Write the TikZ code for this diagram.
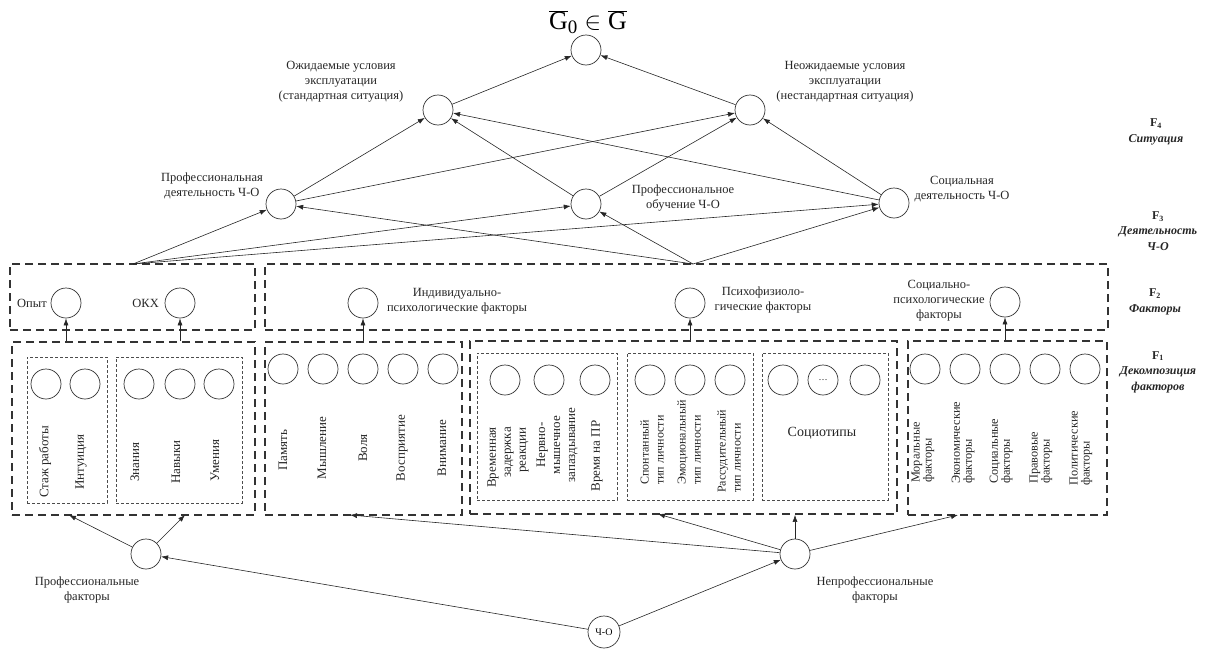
\documentclass[tikz,border=0pt]{standalone}
\usepackage{fontspec}
\setmainfont{Liberation Serif}
\usetikzlibrary{arrows.meta,calc}
\begin{document}
\begin{tikzpicture}[x=1pt,y=-1pt,
  cn/.style={circle,draw=black!80,line width=0.7pt,minimum size=30pt,inner sep=0pt},
  bigbox/.style={draw=black!80,line width=1.8pt,dash pattern=on 8pt off 5pt,inner sep=0pt},
  inbox/.style={draw=black!70,line width=0.6pt,dash pattern=on 3pt off 2pt,inner sep=0pt},
  arr/.style={-{Latex[length=7pt,width=5pt]},line width=0.6pt,draw=black!85},
  lbl/.style={font=\fontsize{12.5}{15}\selectfont,align=center,inner sep=0pt,text=black!85},
  rl/.style={font=\fontsize{13}{15}\selectfont,rotate=90,inner sep=0pt,text=black!85},
  rs/.style={font=\fontsize{12}{15}\selectfont,rotate=90,inner sep=0pt,anchor=west,align=left,text=black!85},
  rd/.style={font=\fontsize{12.3}{12}\selectfont,rotate=90,inner sep=0pt,anchor=west,align=left,text=black!85},
  fl/.style={font=\fontsize{12}{15.5}\selectfont\bfseries,align=center,inner sep=0pt,text=black!85}
]
\useasboundingbox (0,0) rectangle (1207,653);

% ---------- boxes ----------
\node[bigbox,minimum width=245pt,minimum height=66pt] (f2a) at (132.5,297) {};
\node[bigbox,minimum width=843pt,minimum height=66pt] (f2b) at (686.5,297) {};
\node[bigbox,minimum width=243pt,minimum height=173pt] (bA) at (133.5,428.5) {};
\node[inbox,minimum width=80pt,minimum height=146pt] (bA1) at (67,430) {};
\node[inbox,minimum width=126pt,minimum height=146pt] (bA2) at (179,430) {};
\node[bigbox,minimum width=197pt,minimum height=173pt] (bB) at (363.5,428.5) {};
\node[bigbox,minimum width=427pt,minimum height=173pt] (bC) at (683.5,427.5) {};
\node[inbox,minimum width=140pt,minimum height=147pt] (bC1) at (547,426.5) {};
\node[inbox,minimum width=126pt,minimum height=147pt] (bC2) at (690,426.5) {};
\node[inbox,minimum width=126pt,minimum height=147pt] (bC3) at (825,426.5) {};
\node[bigbox,minimum width=199pt,minimum height=174pt] (bD) at (1007.5,428) {};

% ---------- top graph ----------
\node (g0l) at (588,22) {\fontsize{26}{26}\selectfont$\overline{\mbox{G}}_{\mbox{\fontsize{19}{19}\selectfont 0}}\in\overline{\mbox{G}}$};
\node[cn] (g0) at (586,50) {};
\node[cn] (exp) at (438,110) {};
\node[cn] (unexp) at (750,110) {};
\node[cn] (pd) at (281,204) {};
\node[cn] (po) at (586,204) {};
\node[cn] (sd) at (894,203) {};

\node[lbl] (expl) at (341,82) {Ожидаемые условия\\эксплуатации\\(стандартная ситуация)};
\node[lbl] (unexpl) at (845,82) {Неожидаемые условия\\эксплуатации\\(нестандартная ситуация)};
\node[lbl] (pdl) at (212,186) {Профессиональная\\деятельность Ч-О};
\node[lbl] (pol) at (683,198) {Профессиональное\\обучение Ч-О};
\node[lbl] (sdl) at (962,189) {Социальная\\деятельность Ч-О};

\coordinate (t1) at (133,264);
\coordinate (t2) at (693,264);

\draw[arr] (exp) -- (g0);
\draw[arr] (unexp) -- (g0);
\draw[arr] (pd) -- (exp);
\draw[arr] (pd) -- (unexp);
\draw[arr] (po) -- (exp);
\draw[arr] (po) -- (unexp);
\draw[arr] (sd) -- (exp);
\draw[arr] (sd) -- (unexp);
\draw[arr] (t1) -- (pd);
\draw[arr] (t1) -- (po);
\draw[arr] (t1) -- (sd);
\draw[arr] (t2) -- (pd);
\draw[arr] (t2) -- (po);
\draw[arr] (t2) -- (sd);

% ---------- F labels ----------
\node[fl] (f4) at (1156,132) {F\textsubscript{4}\\\textit{Ситуация}};
\node[fl] (f3) at (1158,231) {F\textsubscript{3}\\\textit{Деятельность}\\\textit{Ч-О}};
\node[fl] (f2) at (1155,302) {F\textsubscript{2}\\\textit{Факторы}};
\node[fl] (f1) at (1158,372) {F\textsubscript{1}\\\textit{Декомпозиция}\\\textit{факторов}};

% ---------- F2 row ----------
\node[cn] (opyt) at (66,303) {};
\node[lbl,anchor=east] (opytl) at (47,303) {Опыт};
\node[cn] (okh) at (180,303) {};
\node[lbl,anchor=east] (okhl) at (159,303) {ОКХ};
\node[cn] (ind) at (363,303) {};
\node[lbl] (indl) at (457,301) {Индивидуально-\\психологические факторы};
\node[cn] (pf) at (690,303) {};
\node[lbl] (pfl) at (763,300) {Психофизиоло-\\гические факторы};
\node[cn] (sp) at (1005,302) {};
\node[lbl] (spl) at (939,301) {Социально-\\психологические\\факторы};

% ---------- F1 circles ----------
\foreach \x [count=\i] in {46,85,139,180,219} \node[cn] (a\i) at (\x,384) {};
\foreach \x [count=\i] in {283,323,363,403,443} \node[cn] (b\i) at (\x,369) {};
\foreach \x [count=\i] in {505,549,595,650,690,730,783} \node[cn] (c\i) at (\x,380) {};
\node[cn] (c8) at (823,380) {\fontsize{9}{9}\selectfont\ldots};
\node[cn] (c9) at (865,380) {};
\foreach \x [count=\i] in {925,965,1005,1045,1085} \node[cn] (d\i) at (\x,369) {};

% ---------- F1 labels ----------
\node[rl] (la1) at (45,462) {Стаж работы};
\node[rl] (la2) at (81,462) {Интуиция};
\node[rl] (la3) at (135,462) {Знания};
\node[rl] (la4) at (176,462) {Навыки};
\node[rl] (la5) at (215,461) {Умения};

\node[rl] (lb1) at (283,450) {Память};
\node[rl] (lb2) at (322,448) {Мышление};
\node[rl] (lb3) at (363,448) {Воля};
\node[rl] (lb4) at (402,448) {Восприятие};
\node[rl] (lb5) at (442,448) {Внимание};

\node[rl,anchor=east,align=right] (lc1) at (508,427) {Временная\\задержка\\реакции};
\node[rl,align=center] (lc2) at (557,445) {Нервно-\\мышечное\\запаздывание};
\node[rl] (lc3) at (597,456) {Время на ПР};
\node[rs] (lc4) at (652,485) {Спонтанный\\тип личности};
\node[rs] (lc5) at (689,485) {Эмоциональный\\тип личности};
\node[rs] (lc6) at (729,493) {Рассудительный\\тип личности};
\node[lbl,font=\fontsize{14}{16}\selectfont] (soc) at (822,433) {Социотипы};

\node[rd] (ld1) at (923,483) {Моральные\\факторы};
\node[rd] (ld2) at (963,484) {Экономические\\факторы};
\node[rd] (ld3) at (1001,484) {Социальные\\факторы};
\node[rd] (ld4) at (1041,484) {Правовые\\факторы};
\node[rd] (ld5) at (1081,486) {Политические\\факторы};

% ---------- F1 -> F2 arrows ----------
\draw[arr] (opyt |- bA.north) -- (opyt);
\draw[arr] (okh |- bA.north) -- (okh);
\draw[arr] (ind |- bB.north) -- (ind);
\draw[arr] (pf |- bC.north) -- (pf);
\draw[arr] (sp |- bD.north) -- (sp);

% ---------- bottom ----------
\node[cn] (prof) at (146,554) {};
\node[lbl] (profl) at (87,590) {Профессиональные\\факторы};
\node[cn] (nprof) at (795,554) {};
\node[lbl] (nprofl) at (875,590) {Непрофессиональные\\факторы};
\node[cn,minimum size=32pt] (cho) at (604,632) {\fontsize{10}{12}\selectfont Ч-О};

\coordinate (pa1) at (69,515);
\coordinate (pa2) at (185,515);
\coordinate (pb1) at (350,515);
\coordinate (pc1) at (658,514);
\coordinate (pd1) at (958,515);

\draw[arr] (cho) -- (prof);
\draw[arr] (cho) -- (nprof);
\draw[arr] (prof) -- (pa1);
\draw[arr] (prof) -- (pa2);
\draw[arr] (nprof) -- (pb1);
\draw[arr] (nprof) -- (pc1);
\draw[arr] (nprof) -- (nprof |- bC.south);
\draw[arr] (nprof) -- (pd1);
\end{tikzpicture}
\end{document}
